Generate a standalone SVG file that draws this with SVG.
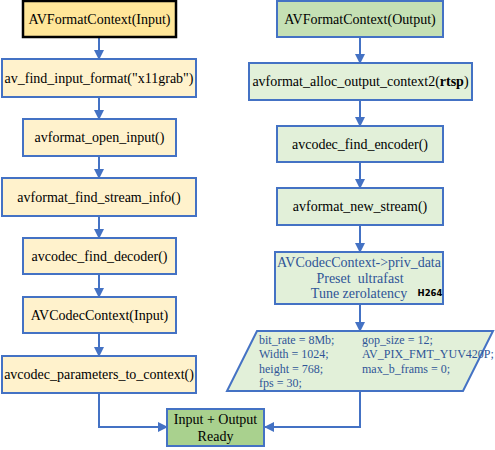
<svg xmlns="http://www.w3.org/2000/svg" width="495" height="450" viewBox="0 0 495 450">
<style>
.b{stroke:#4472C4;stroke-width:2}
.in{fill:#FFF2CC}
.out{fill:#E2F0D9}
.t{font-family:"Liberation Serif","Times New Roman",serif;font-size:14px;fill:#000;text-anchor:middle}
.bl{font-family:"Liberation Serif","Times New Roman",serif;font-size:14px;fill:#2F5597;text-anchor:middle}
.p{font-family:"Liberation Serif","Times New Roman",serif;font-size:12px;fill:#2F5597}
.c{fill:none;stroke:#4472C4;stroke-width:2}
</style>
<defs>
<marker id="ar" viewBox="0 0 10 10" refX="9" refY="5" markerWidth="5" markerHeight="5" orient="auto" markerUnits="strokeWidth">
<path d="M0,0 L10,5 L0,10 z" fill="#4472C4"/>
</marker>
</defs>
<rect width="495" height="450" fill="#fff"/>
<g id="connectors">
<line class="c" x1="99" y1="38" x2="99" y2="59" marker-end="url(#ar)"/>
<line class="c" x1="99" y1="97" x2="99" y2="119" marker-end="url(#ar)"/>
<line class="c" x1="99" y1="156" x2="99" y2="178" marker-end="url(#ar)"/>
<line class="c" x1="99" y1="216" x2="99" y2="238" marker-end="url(#ar)"/>
<line class="c" x1="99" y1="274" x2="99" y2="297" marker-end="url(#ar)"/>
<line class="c" x1="99" y1="333" x2="99" y2="356" marker-end="url(#ar)"/>
<polyline class="c" points="99,393 99,427 167,427" marker-end="url(#ar)"/>
<line class="c" x1="360" y1="37" x2="360" y2="63" marker-end="url(#ar)"/>
<line class="c" x1="360" y1="100" x2="360" y2="126" marker-end="url(#ar)"/>
<line class="c" x1="360" y1="162" x2="360" y2="188" marker-end="url(#ar)"/>
<line class="c" x1="360" y1="225" x2="360" y2="252" marker-end="url(#ar)"/>
<line class="c" x1="360" y1="304" x2="360" y2="331" marker-end="url(#ar)"/>
<polyline class="c" points="360,391 360,427 265,427" marker-end="url(#ar)"/>
</g>
<g id="in1">
<rect x="23" y="1" width="153" height="36" fill="#FFE699" stroke="#000" stroke-width="2.5"/>
<text class="t" x="99.5" y="24">AVFormatContext(Input)</text>
</g>
<g id="in2">
<rect class="b in" x="2" y="59" width="194" height="38"/>
<text class="t" x="99" y="83">av_find_input_format("x11grab")</text>
</g>
<g id="in3">
<rect class="b in" x="23" y="119" width="153" height="37"/>
<text class="t" x="99.5" y="142">avformat_open_input()</text>
</g>
<g id="in4">
<rect class="b in" x="2" y="178" width="194" height="38"/>
<text class="t" x="99" y="202">avformat_find_stream_info()</text>
</g>
<g id="in5">
<rect class="b in" x="23" y="238" width="153" height="36"/>
<text class="t" x="99.5" y="261">avcodec_find_decoder()</text>
</g>
<g id="in6">
<rect class="b in" x="23" y="297" width="153" height="36"/>
<text class="t" x="99.5" y="320">AVCodecContext(Input)</text>
</g>
<g id="in7">
<rect class="b in" x="2" y="356" width="194" height="37"/>
<text class="t" x="99" y="379">avcodec_parameters_to_context()</text>
</g>
<g id="out1">
<rect class="b" x="277" y="1" width="166" height="36" fill="#C5E0B4"/>
<text class="t" x="360" y="24">AVFormatContext(Output)</text>
</g>
<g id="out2">
<rect class="b out" x="249" y="63" width="223" height="37"/>
<text class="t" x="360.5" y="86">avformat_alloc_output_context2(<tspan font-weight="bold">rtsp</tspan>)</text>
</g>
<g id="out3">
<rect class="b out" x="277" y="126" width="166" height="36"/>
<text class="t" x="360" y="149">avcodec_find_encoder()</text>
</g>
<g id="out4">
<rect class="b out" x="277" y="188" width="166" height="37"/>
<text class="t" x="360" y="211">avformat_new_stream()</text>
</g>
<g id="out5">
<rect class="b out" x="275" y="252" width="168" height="52"/>
<text class="bl" x="359" y="267">AVCodecContext-&gt;priv_data</text>
<text class="bl" x="360" y="283" xml:space="preserve">Preset  ultrafast</text>
<text class="bl" x="359" y="298">Tune zerolatency</text>
<text x="430" y="296" font-family="'DejaVu Sans',sans-serif" font-size="8.5" font-weight="bold" text-anchor="middle" fill="#000">H264</text>
</g>
<g id="out6">
<polygon class="b out" points="257,331 493,331 463,391 227,391"/>
<text class="p" x="259" y="344">bit_rate = 8Mb;</text>
<text class="p" x="259" y="358">Width = 1024;</text>
<text class="p" x="259" y="373">height = 768;</text>
<text class="p" x="259" y="387">fps = 30;</text>
<text class="p" x="362" y="344">gop_size = 12;</text>
<text class="p" x="362" y="358">AV_PIX_FMT_YUV420P;</text>
<text class="p" x="362" y="373">max_b_frams = 0;</text>
</g>
<g id="ready">
<rect class="b" x="167" y="409" width="97" height="37" fill="#A9D18E"/>
<text class="t" x="215.5" y="424">Input + Output</text>
<text class="t" x="215.5" y="441">Ready</text>
</g>
</svg>
